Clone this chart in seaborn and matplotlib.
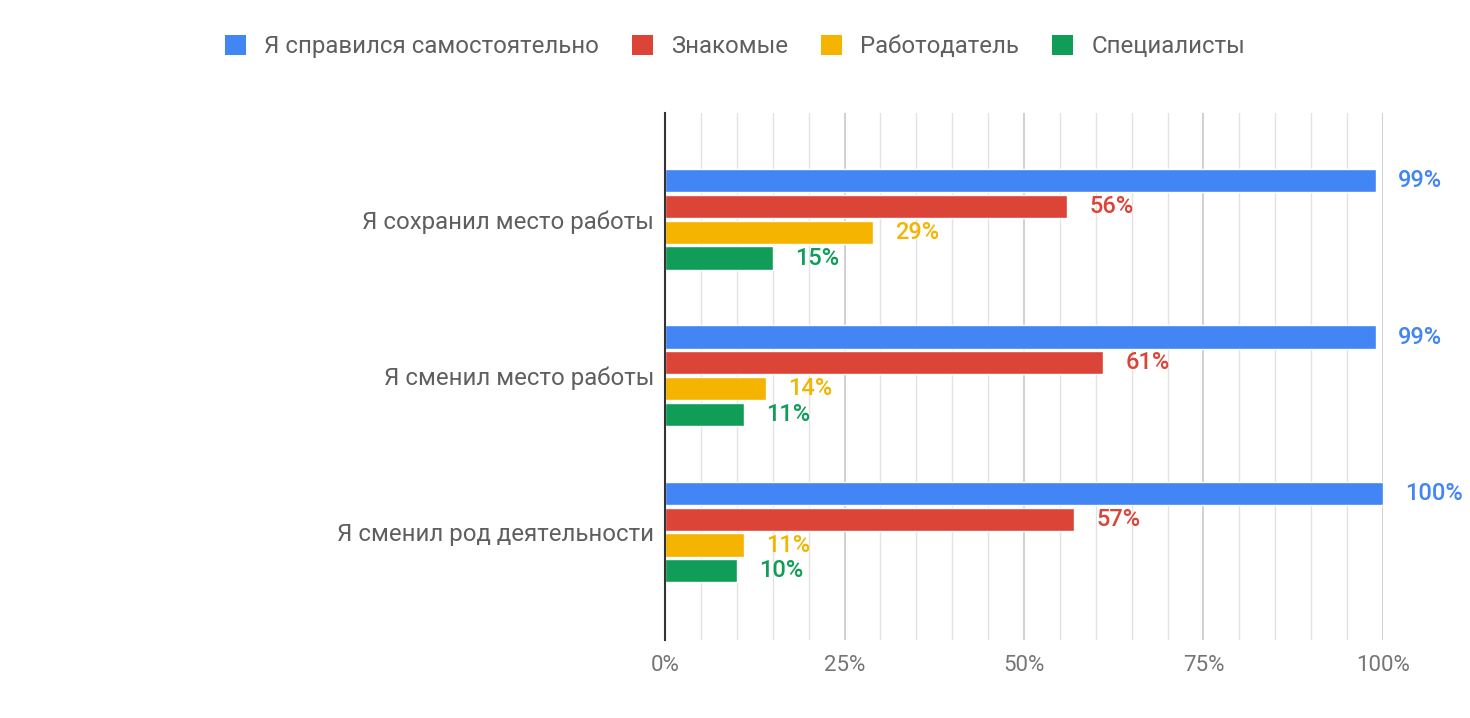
import pandas as pd
import numpy as np
import matplotlib
matplotlib.use('Agg')
import matplotlib.pyplot as plt
from matplotlib.patches import Patch
from matplotlib.ticker import MultipleLocator, PercentFormatter
import seaborn as sns

# Data
categories = ['Я сохранил место работы', 'Я сменил место работы', 'Я сменил род деятельности']
series = ['Я справился самостоятельно', 'Знакомые', 'Работодатель', 'Специалисты']
self_vals = [99, 99, 100]
friends_vals = [56, 61, 57]
employer_vals = [29, 14, 11]
special_vals = [15, 11, 10]
colors = ['#4285F4', '#DB4437', '#F4B400', '#0F9D58']

# Build long-form table for seaborn
rows = []
for name, vals in zip(series, [self_vals, friends_vals, employer_vals, special_vals]):
    for cat, v in zip(categories, vals):
        rows.append({'category': cat, 'source': name, 'value': v})
df = pd.DataFrame(rows)

sns.set_theme(style='white')
plt.rcParams['font.family'] = ['Roboto', 'DejaVu Sans']

fig = plt.figure(figsize=(14.7, 7.18), dpi=100)
ax = fig.add_axes([0.4524, 0.1086, 0.4884, 0.7340])

sns.barplot(data=df, y='category', x='value', hue='source', orient='h',
            palette=colors, width=0.66, gap=0.1, saturation=1,
            legend=False, ax=ax)

# value labels in bar colour
for cont, col in zip(ax.containers, colors):
    ax.bar_label(cont, labels=[f'{int(v)}%' for v in cont.datavalues],
                 padding=16, color=col, fontsize=17, fontweight='medium')

ax.set_xlim(0, 100)
ax.set_ylim(2.69, -0.68)
ax.xaxis.set_major_locator(MultipleLocator(25))
ax.xaxis.set_minor_locator(MultipleLocator(5))
ax.xaxis.set_major_formatter(PercentFormatter(decimals=0))
ax.grid(which='minor', axis='x', color='#e3e3e3', lw=1)
ax.grid(which='major', axis='x', color='#c8c8c8', lw=1.2)
ax.set_axisbelow(True)
for s in ['top', 'right', 'bottom']:
    ax.spines[s].set_visible(False)
ax.spines['left'].set_color('#333333')
ax.spines['left'].set_linewidth(1.5)
ax.spines['left'].set_zorder(5)

ax.set_xlabel('')
ax.set_ylabel('')
ax.tick_params(axis='x', which='both', length=0, pad=11, labelsize=16, labelcolor='#757575')
ax.tick_params(axis='y', length=0, pad=8, labelsize=17.3, labelcolor='#5f5f5f')

handles = [Patch(facecolor=c, edgecolor='none') for c in colors]
fig.legend(handles, series, loc='center', bbox_to_anchor=(0.5, 0.935), ncol=4,
           frameon=False, fontsize=17.3, handlelength=0.9, handleheight=0.9,
           columnspacing=1.35, handletextpad=0.75, labelcolor='#5f5f5f')

fig.savefig('out.png', dpi=100)
